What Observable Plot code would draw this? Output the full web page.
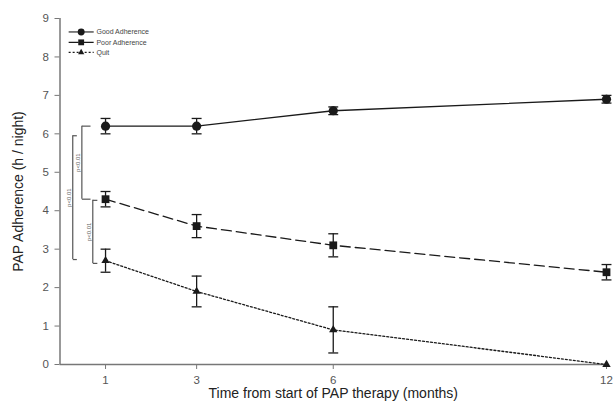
<!DOCTYPE html>
<html>
<head>
<meta charset="utf-8">
<script src="https://cdn.jsdelivr.net/npm/d3@7"></script>
<script src="https://cdn.jsdelivr.net/npm/@observablehq/plot@0.6"></script>
<style>
  html, body { margin: 0; padding: 0; background: #fff; }
  #chart svg { display: block; font-family: "Liberation Sans", Arial, sans-serif; }
</style>
</head>
<body>
<div id="chart"></div>
<script>
// ---- data ----
const months = [1, 3, 6, 12];
const seriesNames = ["Good Adherence", "Poor Adherence", "Quit"];
const goodMean = [6.2, 6.2, 6.6, 6.9];
const goodErr  = [0.2, 0.2, 0.1, 0.1];
const poorMean = [4.3, 3.6, 3.1, 2.4];
const poorErr  = [0.2, 0.3, 0.3, 0.2];
const quitMean = [2.7, 1.9, 0.9, 0.0];
const quitErr  = [0.3, 0.4, 0.6, 0.0];
const xTicks = [1, 3, 6, 12];
const yTicks = [0, 1, 2, 3, 4, 5, 6, 7, 8, 9];
// significance brackets: comparison between group means at month 1
const bracketLabels = ["p<0.01", "p<0.01", "p<0.01"];
const bracketFrom = [5.95, 6.2, 4.27];
const bracketTo   = [2.73, 4.3, 2.63];

// ---- styles ----
const styles = {
  "Good Adherence": {symbol: "circle", r: 4.6, dash: null},
  "Poor Adherence": {symbol: "square", r: 4.4, dash: "10,5"},
  "Quit":           {symbol: "triangle", r: 3.1, dash: "2,2"}
};
const means = [goodMean, poorMean, quitMean];
const errs = [goodErr, poorErr, quitErr];
const rows = [];
seriesNames.forEach((s, i) => months.forEach((m, j) => rows.push({series: s, month: m, mean: means[i][j], err: errs[i][j]})));
const errRows = rows.filter(d => d.err > 0);

const capSymbol = {draw(ctx, size) { const w = Math.sqrt(size) / 2; ctx.moveTo(-w, 0); ctx.lineTo(w, 0); }};

// bracket layout (x in month units, left of month-1 points)
const bracketX = [0.28, 0.48, 0.72];
const bracketCap = [0.09, 0.19, 0.1];
const brackets = bracketLabels.map((l, i) => ({label: l, x: bracketX[i], cap: bracketCap[i], y1: bracketFrom[i], y2: bracketTo[i]}));

// legend layout (month / value units)
const legendY = [8.65, 8.38, 8.12];
const legend = seriesNames.map((s, i) => ({series: s, y: legendY[i]}));

const ink = "#1a1a1a";
const axisColor = "#777";

const marks = [
  // axes
  Plot.axisY(yTicks, {tickSize: 5, tickPadding: 6, fontSize: 11.5, color: "#555", stroke: axisColor, label: null}),
  Plot.axisX(xTicks, {tickSize: 5, tickPadding: 6, fontSize: 11.5, color: "#555", stroke: axisColor, label: null}),
  Plot.ruleX([0], {stroke: axisColor, strokeWidth: 1.5}),
  Plot.ruleY([0], {stroke: axisColor, strokeWidth: 1.5}),
  Plot.text(["PAP Adherence (h / night)"], {frameAnchor: "left", dx: -41, rotate: -90, fontSize: 14, fill: "#222", textAnchor: "middle"}),
  Plot.text(["Time from start of PAP therapy (months)"], {frameAnchor: "bottom", dy: 33, fontSize: 14, fill: "#222", textAnchor: "middle"}),
  // brackets
  Plot.ruleX(brackets, {x: "x", y1: "y1", y2: "y2", stroke: "#555", strokeWidth: 1.2}),
  Plot.link(brackets, {x1: "x", x2: d => d.x + d.cap, y1: "y1", y2: "y1", stroke: "#555", strokeWidth: 1.2}),
  Plot.link(brackets, {x1: "x", x2: d => d.x + d.cap, y1: "y2", y2: "y2", stroke: "#555", strokeWidth: 1.2}),
  Plot.text(brackets, {x: "x", y: d => (d.y1 + d.y2) / 2, text: "label", rotate: -90, dx: -4, fontSize: 6, fill: "#666"}),
  // error bars
  Plot.ruleX(errRows, {x: "month", y1: d => d.mean - d.err, y2: d => d.mean + d.err, stroke: ink, strokeWidth: 1.3}),
  Plot.dot(errRows, {x: "month", y: d => d.mean - d.err, symbol: capSymbol, r: 5.6, stroke: ink, strokeWidth: 1.3}),
  Plot.dot(errRows, {x: "month", y: d => d.mean + d.err, symbol: capSymbol, r: 5.6, stroke: ink, strokeWidth: 1.3}),
];

seriesNames.forEach(s => {
  const st = styles[s];
  const data = rows.filter(d => d.series === s);
  marks.push(Plot.line(data, {x: "month", y: "mean", stroke: ink, strokeWidth: 1.3, strokeDasharray: st.dash}));
  marks.push(Plot.dot(data, {x: "month", y: "mean", symbol: st.symbol, r: st.r, fill: ink, stroke: "none"}));
});

// legend
seriesNames.forEach((s, i) => {
  const st = styles[s];
  const row = [legend[i]];
  marks.push(Plot.link(row, {x1: 0.19, x2: 0.74, y1: "y", y2: "y", stroke: ink, strokeWidth: 1.1, strokeDasharray: st.dash}));
  marks.push(Plot.dot(row, {x: 0.465, y: "y", symbol: st.symbol, r: st.r * 0.75, fill: ink, stroke: "none"}));
  marks.push(Plot.text(row, {x: 0.8, y: "y", text: "series", textAnchor: "start", fontSize: 7, fill: "#444"}));
});

const chart = Plot.plot({
  width: 613,
  height: 410,
  marginLeft: 59.5,
  marginRight: 7,
  marginTop: 18,
  marginBottom: 46,
  x: {domain: [0, 12]},
  y: {domain: [0, 9]},
  style: {fontFamily: "Liberation Sans, Arial, sans-serif", background: "#fff"},
  marks
});
document.getElementById("chart").appendChild(chart);
</script>
</body>
</html>
